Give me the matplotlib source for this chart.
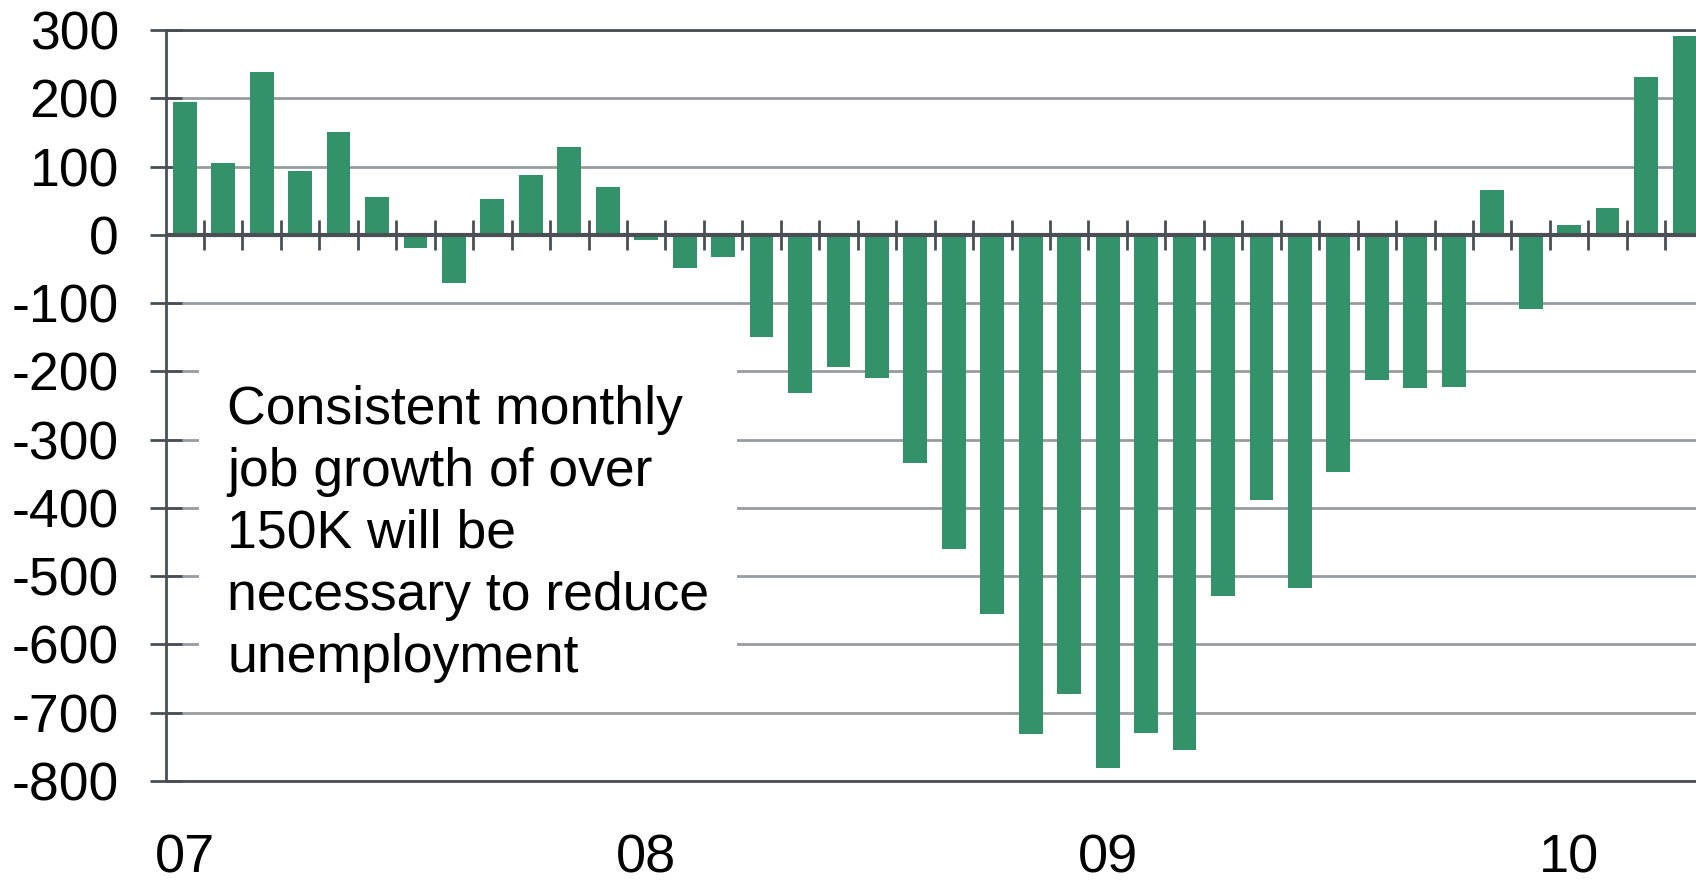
import numpy as np
import matplotlib.pyplot as plt

plt.rcParams['font.family'] = ['Liberation Sans', 'DejaVu Sans']
plt.rcParams['axes.unicode_minus'] = False

# monthly change in payrolls, thousands, Jan 2007 - Apr 2010
payrolls = [195, 105, 239, 93, 150, 55, -19, -71, 52, 87, 128, 70,
            -8, -49, -32, -149, -231, -193, -209, -334, -460, -556, -731, -673,
            -781, -729, -754, -529, -388, -517, -347, -212, -225, -223, 65, -109,
            14, 40, 231, 292]
year_starts = [0, 12, 24, 36]
year_labels = ['07', '08', '09', '10']
note = "Consistent monthly\njob growth of over\n150K will be\nnecessary to reduce\nunemployment"

dark = '#4a4f55'

fig = plt.figure(figsize=(16.96, 8.84), dpi=100)
ax = fig.add_axes([0.0976, 0.1165, 0.9024, 0.8495])

x = np.arange(len(payrolls))
ax.bar(x, payrolls, width=0.62, color='#33926a', zorder=3)
ax.set_xlim(-0.5, 39.3)
ax.set_ylim(-800, 300)
ax.set_yticks(range(-800, 301, 100))
ax.yaxis.grid(True, color='#989ca0', linewidth=2)
ax.set_axisbelow(True)

# zero line with month separator ticks
ax.axhline(0, color=dark, lw=3, zorder=4)
ax.vlines(x[:-1] + 0.5, -22, 22, color=dark, lw=2, zorder=4)

ax.set_xticks(year_starts, year_labels)
ax.tick_params(axis='x', length=0, labelsize=39, pad=38)
ax.tick_params(axis='y', direction='inout', length=23, width=2, color=dark,
               labelsize=38.5, pad=22)

for s in ['left', 'top', 'bottom']:
    ax.spines[s].set_color(dark)
    ax.spines[s].set_linewidth(2)
ax.spines['right'].set_visible(False)

ax.text(1.1, -438, note, fontsize=38.5, va='center', ha='left', linespacing=1.31,
        bbox=dict(facecolor='white', edgecolor='none', pad=20), zorder=5)

fig.savefig('out.png', dpi=100)
